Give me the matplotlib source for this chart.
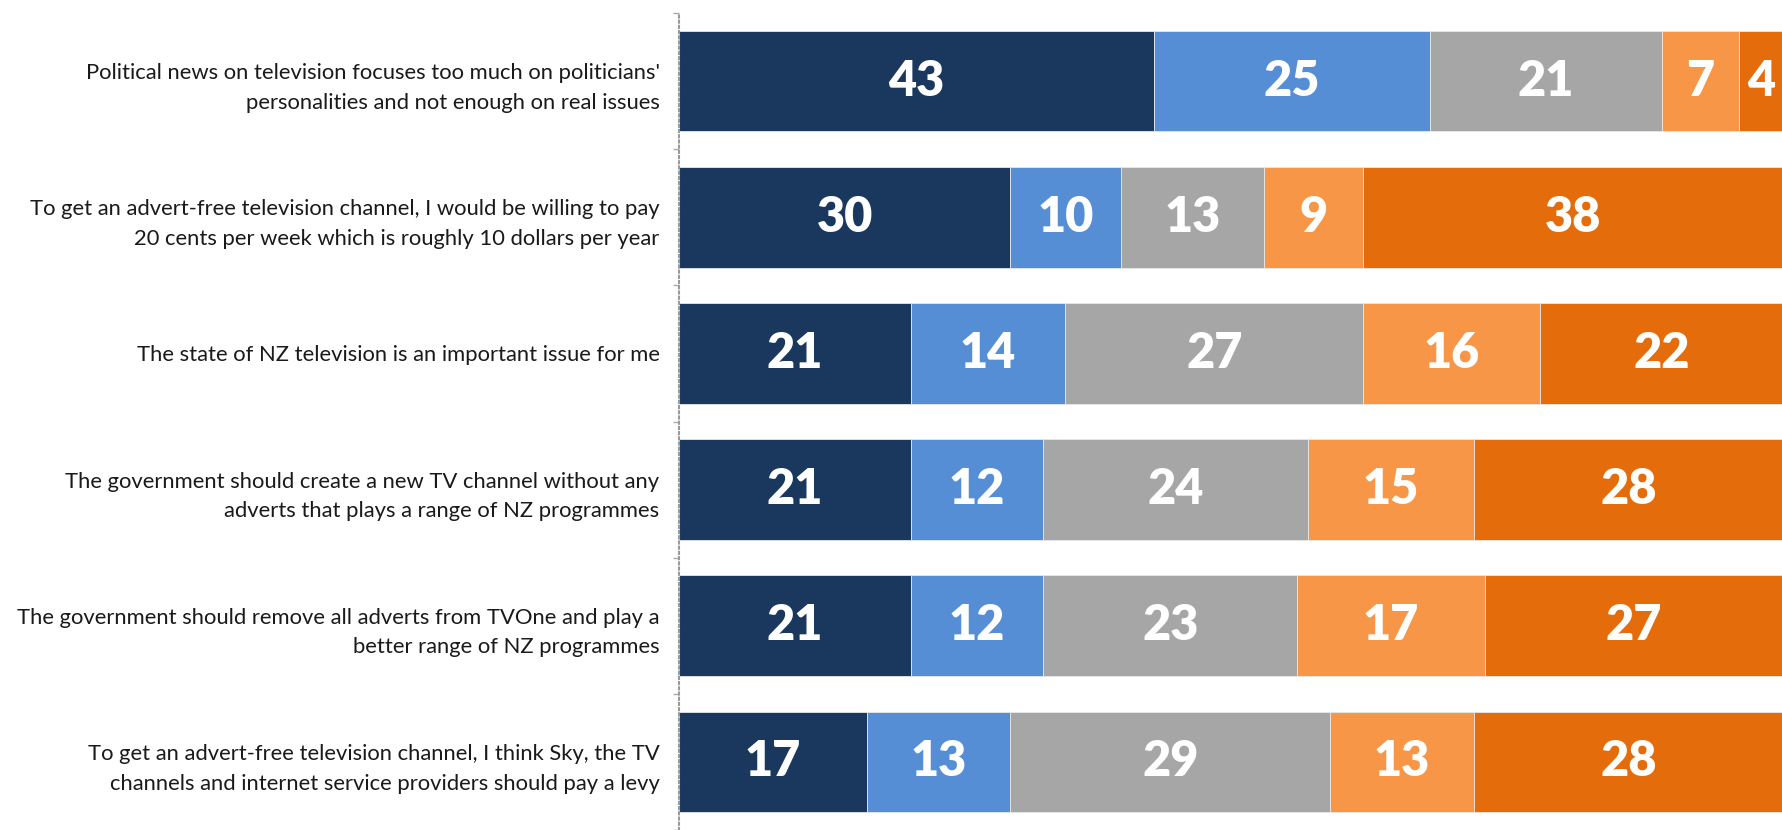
import matplotlib
matplotlib.use('Agg')
import matplotlib.pyplot as plt
import numpy as np

statements = [
    "Political news on television focuses too much on politicians'\npersonalities and not enough on real issues",
    "To get an advert-free television channel, I would be willing to pay\n20 cents per week which is roughly 10 dollars per year",
    "The state of NZ television is an important issue for me",
    "The government should create a new TV channel without any\nadverts that plays a range of NZ programmes",
    "The government should remove all adverts from TVOne and play a\nbetter range of NZ programmes",
    "To get an advert-free television channel, I think Sky, the TV\nchannels and internet service providers should pay a levy",
]

strongly_agree = [43, 30, 21, 21, 21, 17]
agree = [25, 10, 14, 12, 12, 13]
neutral = [21, 13, 27, 24, 23, 29]
disagree = [7, 9, 16, 15, 17, 13]
strongly_disagree = [4, 38, 22, 28, 27, 28]

colors = ['#1A375E', '#558ED5', '#A6A6A6', '#F79646', '#E46C0A']


def run():
    fig = plt.figure(figsize=(17.83, 8.30), dpi=100)
    ax = fig.add_axes([679 / 1783, 0, 1 - 679 / 1783, 1 - 13 / 830])

    ys = np.arange(len(statements))
    left = np.zeros(len(statements))
    for vals, c in zip([strongly_agree, agree, neutral, disagree, strongly_disagree], colors):
        vals = np.array(vals)
        ax.barh(ys, vals, left=left, height=0.74, color=c, edgecolor='#e8e8e8', linewidth=0.6)
        for y, l, v in zip(ys, left, vals):
            ax.text(l + v / 2, y, str(v), ha='center', va='center', color='white',
                    fontsize=35, fontweight='heavy', family='Lato')
        left += vals

    ax.set_xlim(0, 100)
    ax.set_ylim(5.5, -0.5)
    ax.set_yticks(ys)
    ax.set_yticklabels(statements, fontsize=15.8, family='Lato', color='#1a1a1a',
                       linespacing=1.6)
    ax.tick_params(axis='y', which='major', length=0, pad=14)
    ax.set_yticks(np.arange(-0.5, 6.0, 1.0), minor=True)
    ax.tick_params(axis='y', which='minor', length=4, width=1, color='#aaaaaa')
    ax.set_xticks([])

    for s in ['top', 'right', 'bottom']:
        ax.spines[s].set_visible(False)
    ax.spines['left'].set_linestyle((0, (1, 1.5)))
    ax.spines['left'].set_color('#999999')
    ax.spines['left'].set_linewidth(1.5)

    plt.savefig('out.png', dpi=100)


if __name__ == '__main__':
    run()
